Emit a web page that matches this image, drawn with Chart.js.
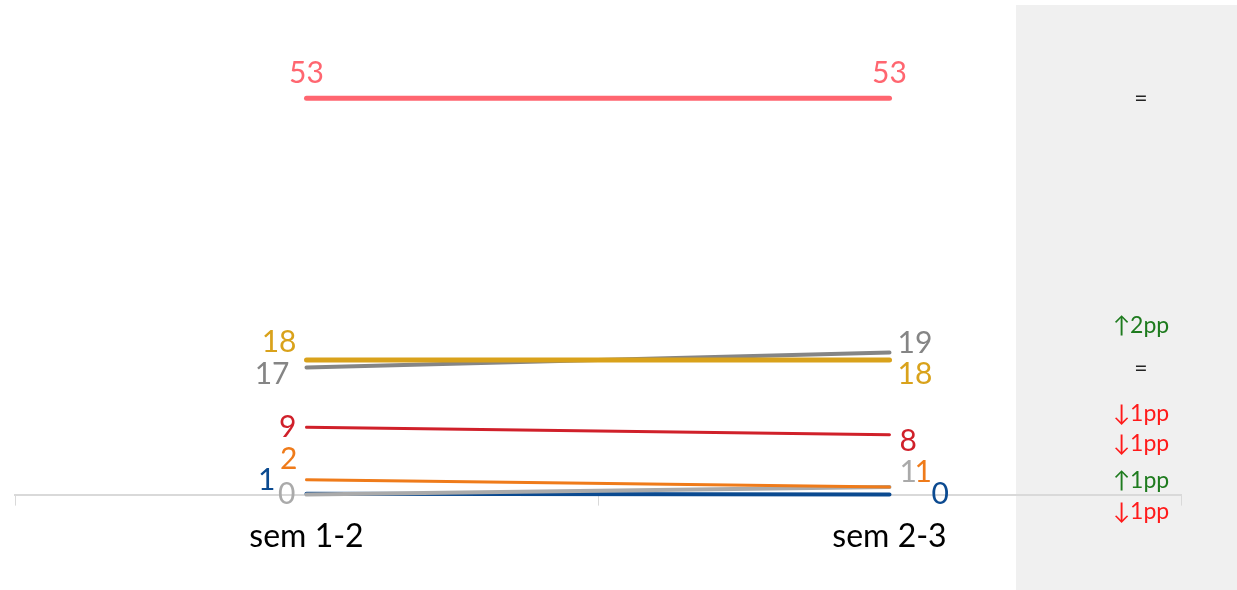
<!DOCTYPE html>
<html><head><meta charset="utf-8">
<script src="https://cdn.jsdelivr.net/npm/chart.js@4/dist/chart.umd.min.js"></script>
<style>html,body{margin:0;padding:0;background:#fff;}#wrap{width:1237px;height:590px;}</style>
</head><body><div id="wrap"><canvas id="c"></canvas></div>
<script>
// ---- data ----
const categories = ['sem 1-2', 'sem 2-3'];
const seriesNames = ['s1', 's2', 's3', 's4', 's5', 's6', 's7'];
const pinkValues = [53, 53];
const goldValues = [18, 18];
const greyValues = [17, 19];
const redValues = [9, 8];
const orangeValues = [2, 1];
const lightGreyValues = [0, 1];
const blueValues = [0.1, 0];
// displayed (rounded) labels at each end
const leftLabels = ['53', '18', '17', '9', '2', '0', '1'];
const rightLabels = ['53', '18', '19', '8', '1', '1', '0'];
// change column text
const changeLabels = ['=', '=', '\u21912pp', '\u21931pp', '\u21931pp', '\u21911pp', '\u21931pp'];

// ---- styling / layout (not data) ----
const colors = ['#ff6670', '#d9a21b', '#858585', '#d0202a', '#ef7b1a', '#aaaaaa', '#0b4a90'];
const widths = [5, 5, 4, 3, 3, 4, 4];
const drawOrder = [1, 2, 3, 4, 5, 6, 7]; // lower drawn on top
const changeColors = ['#222', '#222', '#1e7b1e', '#ff1a1a', '#ff1a1a', '#1e7b1e', '#ff1a1a'];
// label positions (y in value units, x pixel offset)
const leftLabelY = [56.35, 20.34, 16.06, 8.97, 4.68, 0, 1.87];
const leftLabelDx = [0, -10, -17, -10, -9, -11, -31];
const rightLabelY = [56.35, 16.06, 20.2, 7.09, 2.94, 2.94, 0];
const rightLabelDx = [0, 8, 8, 10, 25, 10, 42];
const changeY = [53, 16.9, 22.6, 10.8, 6.8, 1.9, -2.3];

const allValues = [pinkValues, goldValues, greyValues, redValues, orangeValues, lightGreyValues, blueValues];
const FONT = 'Lato, "DejaVu Sans", sans-serif';

const panelPlugin = {
  id: 'panel',
  beforeDraw(chart) {
    const ctx = chart.ctx;
    ctx.save();
    ctx.fillStyle = '#f0f0f0';
    ctx.fillRect(1016, 5, 221, 585);
    ctx.restore();
  }
};

const labelPlugin = {
  id: 'labels',
  afterDatasetsDraw(chart) {
    const ctx = chart.ctx;
    const xs = chart.scales.x, ys = chart.scales.y;
    const x0 = xs.getPixelForValue(0), x1 = xs.getPixelForValue(1);
    ctx.save();
    ctx.textBaseline = 'middle';
    ctx.font = '30px ' + FONT;
    for (let i = 0; i < allValues.length; i++) {
      ctx.fillStyle = colors[i];
      ctx.textAlign = i === 0 ? 'center' : 'right';
      ctx.fillText(leftLabels[i], x0 + leftLabelDx[i], ys.getPixelForValue(leftLabelY[i]));
      ctx.textAlign = i === 0 ? 'center' : 'left';
      ctx.fillText(rightLabels[i], x1 + rightLabelDx[i], ys.getPixelForValue(rightLabelY[i]));
    }
    ctx.font = '23px ' + FONT;
    ctx.textAlign = 'center';
    for (let i = 0; i < changeLabels.length; i++) {
      ctx.fillStyle = changeColors[i];
      ctx.fillText(changeLabels[i], 1141, ys.getPixelForValue(changeY[i]));
    }
    ctx.restore();
  }
};

new Chart(document.getElementById('c'), {
  type: 'line',
  data: {
    labels: categories,
    datasets: allValues.map((v, i) => ({
      label: seriesNames[i],
      data: v,
      borderColor: colors[i],
      borderWidth: widths[i],
      borderCapStyle: 'round',
      pointRadius: 0,
      tension: 0,
      order: drawOrder[i],
      clip: false
    }))
  },
  options: {
    responsive: true,
    maintainAspectRatio: false,
    animation: false,
    layout: { padding: { left: 15, right: 56, top: 46, bottom: 22 } },
    plugins: { legend: { display: false }, tooltip: { enabled: false } },
    scales: {
      x: {
        offset: true,
        grid: { offset: true, drawOnChartArea: false, drawTicks: true, tickLength: 11, color: '#d9d9d9', lineWidth: 1 },
        border: { color: '#d9d9d9', width: 2 },
        ticks: { color: '#000', font: { family: FONT, size: 32 }, padding: 12 }
      },
      y: { display: false, min: 0, max: 60 }
    }
  },
  plugins: [panelPlugin, labelPlugin]
});
</script>
</body></html>
